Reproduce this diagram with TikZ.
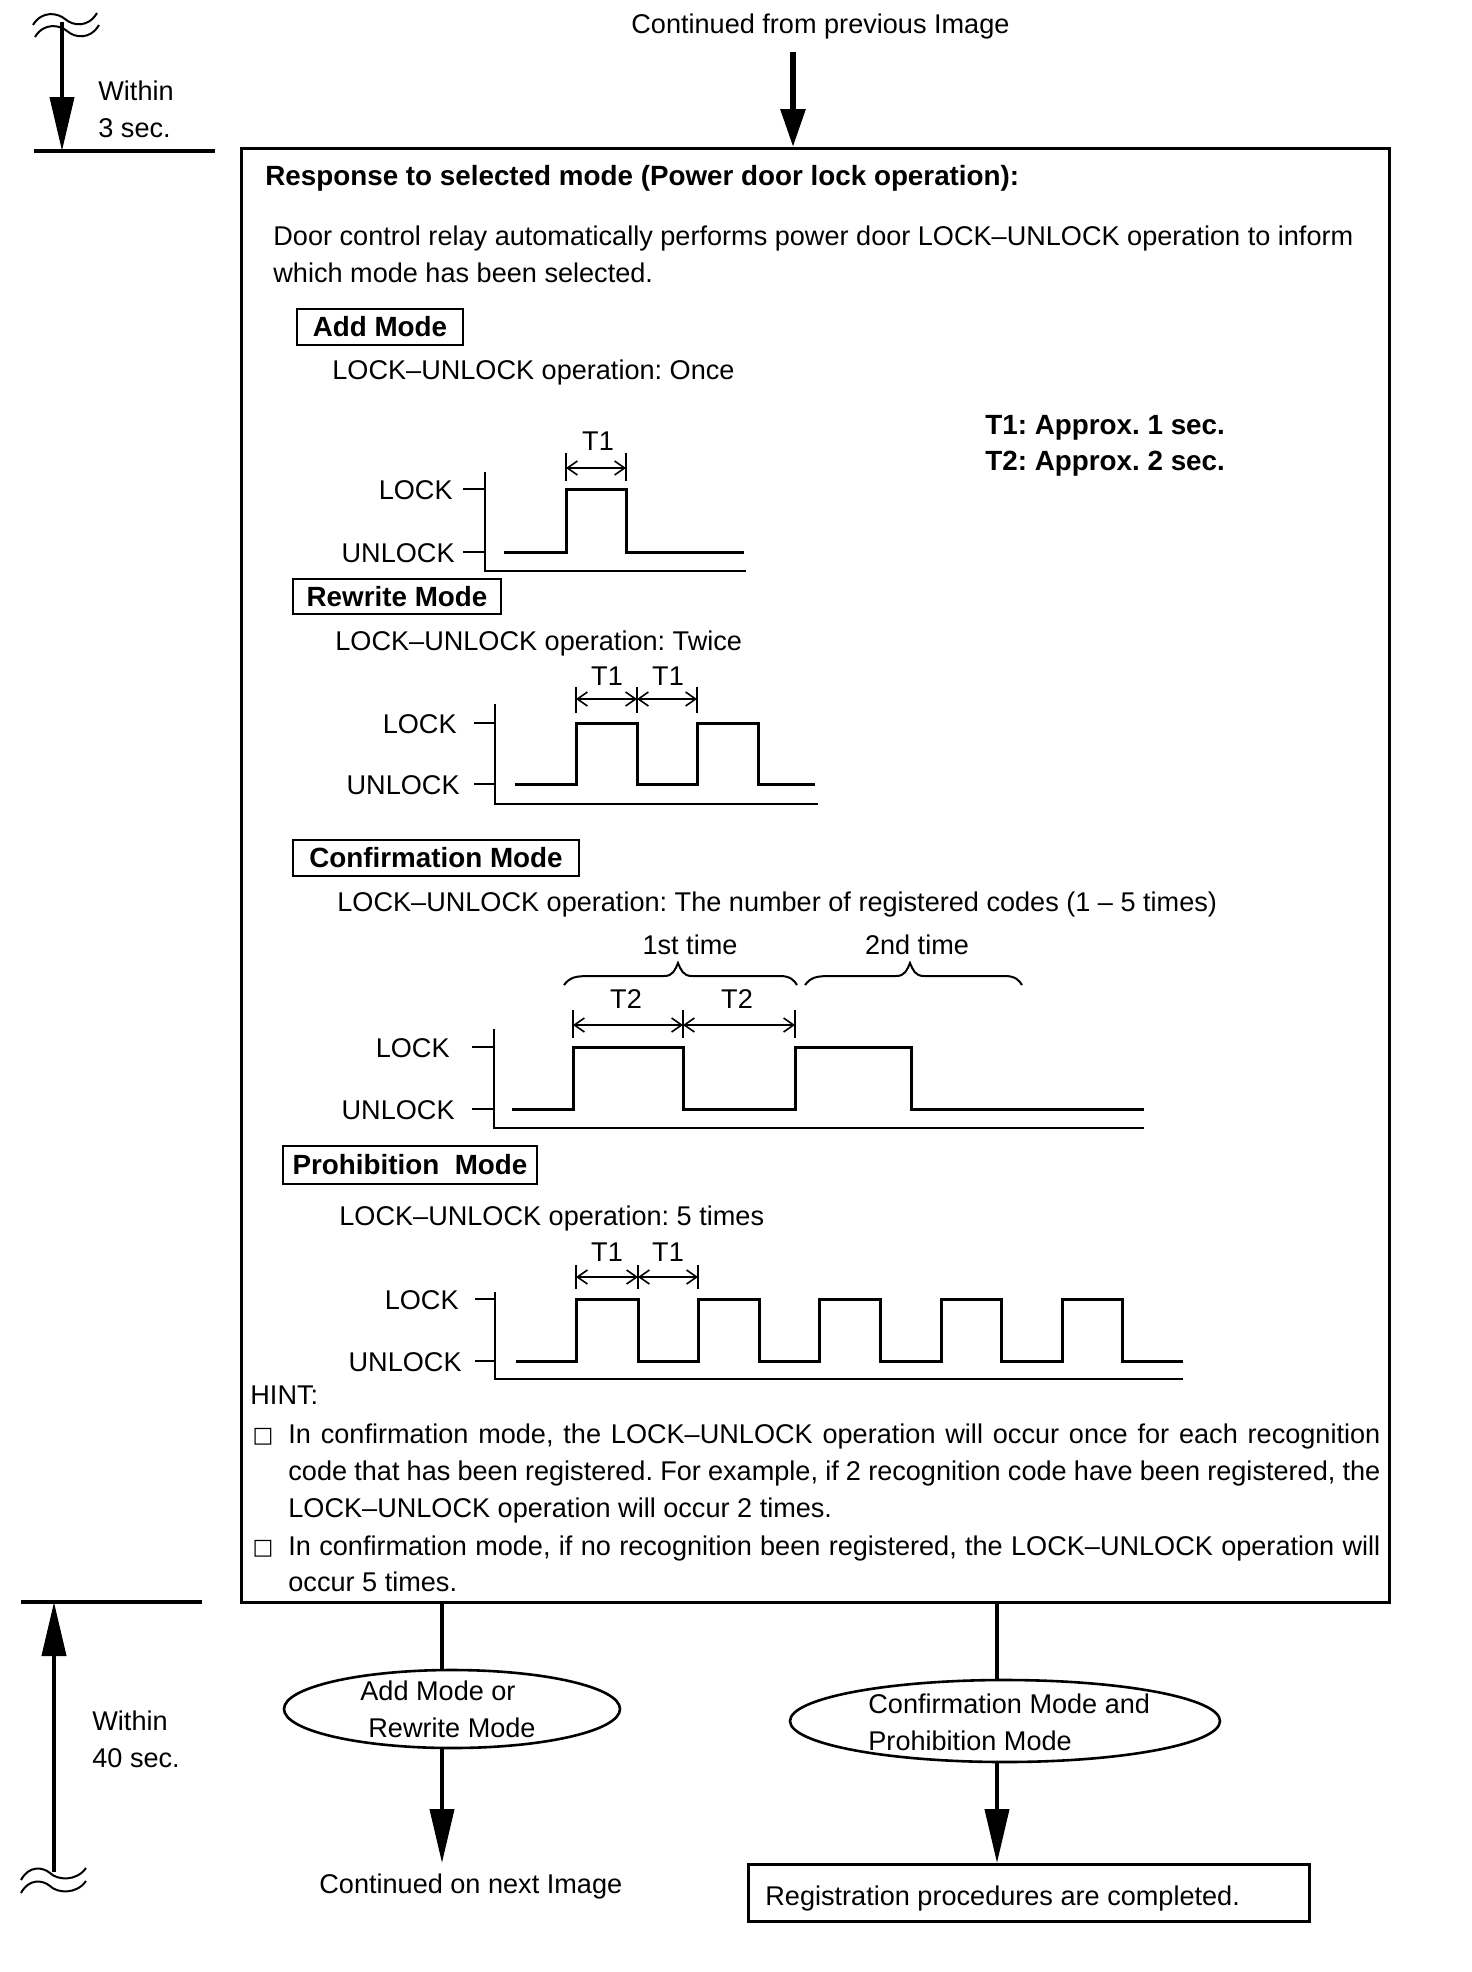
\documentclass[tikz,border=0pt]{standalone}
\usepackage{fontspec}
\setmainfont{Liberation Sans}
\newfontfamily\dejavu{DejaVu Sans}
\usetikzlibrary{arrows.meta,shapes.geometric}
\frenchspacing
\newcommand\fsz{\fontsize{13.55pt}{16pt}\selectfont}
\newcommand\bsz{\fontsize{13.9pt}{16pt}\selectfont\bfseries}
\tikzset{
  lbl/.style={anchor=base west, inner sep=0pt, font=\fsz},
  lblr/.style={anchor=base east, inner sep=0pt, font=\fsz},
  lblc/.style={anchor=base, inner sep=0pt, font=\fsz},
  bld/.style={anchor=base west, inner sep=0pt, font=\bsz},
  modebox/.style={draw, line width=1pt, inner sep=0pt, font=\bsz},
  sig/.style={line width=1.5pt, line join=miter},
  ax/.style={line width=1.3pt},
  dimarr/.style={line width=0.8pt, {Straight Barb[length=5pt,width=7pt]}-{Straight Barb[length=5pt,width=7pt]}},
  dimtick/.style={line width=0.8pt},
  conn/.style={line width=2pt, -{Triangle[length=27pt,width=12pt]}},
  plain/.style={line width=2pt},
  wave/.style={line width=1pt},
  brace/.style={line width=1pt},
  sqb/.style={anchor=base, inner sep=0pt, font=\dejavu\fontsize{11pt}{12pt}\selectfont},
}
\begin{document}
\begin{tikzpicture}[x=0.5pt,y=-0.5pt]
\useasboundingbox (0,0) rectangle (1472,1972);

% ---------- main box ----------
\node[draw, line width=1.5pt, minimum width=574pt, minimum height=727pt, anchor=north west, inner sep=0pt] (main) at (240,147) {};

% ---------- top ----------
\node[lbl] (prev) at (631,33) {Continued from previous Image};
\coordinate (ts) at (793,52);
\draw[line width=3pt, -{Triangle[length=19pt,width=12pt]}] (ts) -- (ts |- main.north);

% top-left marker
\draw[wave] (33,25) .. controls (42,10) and (58,13) .. (65,19) .. controls (73,26) and (88,28) .. (97,13);
\draw[wave] (35,37) .. controls (44,22) and (60,25) .. (67,31) .. controls (75,38) and (90,40) .. (99,25);
\coordinate (tl1) at (62,22);
\coordinate (tl2) at (62,151);
\draw[conn] (tl1) -- (tl2);
\draw[line width=1.6pt] (34,151) -- (215,151);
\node[lbl] (w3a) at (98,100) {Within};
\node[lbl] (w3b) at (98,137) {3 sec.};

% ---------- header texts ----------
\node[bld] (title) at (265,185) {Response to selected mode (Power door lock operation):};
\node[lbl] (door1) at (273,245) {Door control relay automatically performs power door LOCK--UNLOCK operation to inform};
\node[lbl] (door2) at (273,282) {which mode has been selected.};
\node[bld] (t1note) at (985,434) {T1: Approx. 1 sec.};
\node[bld] (t2note) at (985,470) {T2: Approx. 2 sec.};

% ---------- Add mode ----------
\node[modebox, minimum width=83pt, minimum height=18pt] (addbox) at (380,327) {Add Mode};
\node[lbl] (once) at (332,379) {LOCK--UNLOCK operation: Once};
\node[lblr] (aL) at (453,499) {LOCK};
\node[lblr] (aU) at (455,562) {UNLOCK};
\draw[ax] (463,489) -- (485,489);
\draw[ax] (463,552) -- (485,552);
\draw[ax] (485,472) -- (485,571) -- (746,571);
\draw[sig] (504,552) -- (566,552) -- (566,489) -- (626,489) -- (626,552) -- (744,552);
\draw[dimtick] (566,453) -- (566,481) (626,453) -- (626,481);
\draw[dimarr] (566,468) -- (626,468);
\node[lblc] (aT1) at (598,450) {T1};

% ---------- Rewrite mode ----------
\node[modebox, minimum width=104pt, minimum height=17.5pt] (rwbox) at (397,596.5) {Rewrite Mode};
\node[lbl] (twice) at (335,650) {LOCK--UNLOCK operation: Twice};
\node[lblr] (rL) at (457,733) {LOCK};
\node[lblr] (rU) at (460,794) {UNLOCK};
\draw[ax] (474,723) -- (495,723);
\draw[ax] (474,784) -- (495,784);
\draw[ax] (495,704) -- (495,804) -- (818,804);
\draw[sig] (515,784) -- (576,784) -- (576,723) -- (637,723) -- (637,784) -- (697,784) -- (697,723) -- (758,723) -- (758,784) -- (815,784);
\draw[dimtick] (576,687) -- (576,713) (637,687) -- (637,713) (697,687) -- (697,713);
\draw[dimarr] (576,699) -- (637,699);
\draw[dimarr] (637,699) -- (697,699);
\node[lblc] (rT1a) at (607,685) {T1};
\node[lblc] (rT1b) at (668,685) {T1};

% ---------- Confirmation mode ----------
\node[modebox, minimum width=143pt, minimum height=18pt] (cfbox) at (436,858) {Confirmation Mode};
\node[lbl] (num) at (337,911) {LOCK--UNLOCK operation: The number of registered codes (1 -- 5 times)};
\node[lblc] (first) at (690,954) {1st time};
\node[lblc] (second) at (917,954) {2nd time};
\draw[brace] (564,985) .. controls (570,977) and (576,976) .. (590,976) -- (664,976) .. controls (673,976) and (675,970) .. (678,963) .. controls (681,970) and (683,976) .. (692,976) -- (780,976) .. controls (790,976) and (794,980) .. (797,985);
\draw[brace] (805,985) .. controls (811,977) and (817,976) .. (831,976) -- (896,976) .. controls (905,976) and (907,970) .. (910,963) .. controls (913,970) and (915,976) .. (924,976) -- (1005,976) .. controls (1015,976) and (1019,980) .. (1022,985);
\node[lblc] (cT2a) at (626,1008) {T2};
\node[lblc] (cT2b) at (737,1008) {T2};
\draw[dimtick] (573,1010) -- (573,1038) (683,1010) -- (683,1038) (795,1010) -- (795,1038);
\draw[dimarr] (573,1025) -- (683,1025);
\draw[dimarr] (683,1025) -- (795,1025);
\node[lblr] (cL) at (450,1057) {LOCK};
\node[lblr] (cU) at (455,1119) {UNLOCK};
\draw[ax] (472,1047) -- (494,1047);
\draw[ax] (472,1109) -- (494,1109);
\draw[ax] (494,1029) -- (494,1128) -- (1144,1128);
\draw[sig] (512,1109) -- (573,1109) -- (573,1047) -- (683,1047) -- (683,1109) -- (795,1109) -- (795,1047) -- (911,1047) -- (911,1109) -- (1144,1109);

% ---------- Prohibition mode ----------
\node[modebox, minimum width=127pt, minimum height=19pt] (prbox) at (410,1165) {Prohibition\ \ Mode};
\node[lbl] (five) at (339,1225) {LOCK--UNLOCK operation: 5 times};
\node[lblc] (pT1a) at (607,1261) {T1};
\node[lblc] (pT1b) at (668,1261) {T1};
\draw[dimtick] (576,1265) -- (576,1289) (638,1265) -- (638,1289) (698,1265) -- (698,1289);
\draw[dimarr] (576,1277) -- (638,1277);
\draw[dimarr] (638,1277) -- (698,1277);
\node[lblr] (pL) at (459,1309) {LOCK};
\node[lblr] (pU) at (462,1371) {UNLOCK};
\draw[ax] (475,1299) -- (495,1299);
\draw[ax] (475,1361) -- (495,1361);
\draw[ax] (495,1292) -- (495,1379) -- (1183,1379);
\draw[sig] (516,1361) -- (576,1361) -- (576,1299) -- (638,1299) -- (638,1361)
  -- (698,1361) -- (698,1299) -- (759,1299) -- (759,1361)
  -- (819,1361) -- (819,1299) -- (880,1299) -- (880,1361)
  -- (941,1361) -- (941,1299) -- (1001,1299) -- (1001,1361)
  -- (1062,1361) -- (1062,1299) -- (1122,1299) -- (1122,1361) -- (1183,1361);

% ---------- HINT ----------
\node[lbl] (hint) at (250,1404) {HINT:};
\node[sqb] (sq1) at (263,1442) {□};
\node[sqb] (sq2) at (263,1554) {□};
\node[lbl] (h1) at (288,1443) {\makebox[546pt][s]{In confirmation mode, the LOCK--UNLOCK operation will occur once for each recognition}};
\node[lbl] (h2) at (288,1480) {\makebox[546pt][s]{code that has been registered. For example, if 2 recognition code have been registered, the}};
\node[lbl] (h3) at (288,1517) {LOCK--UNLOCK operation will occur 2 times.};
\node[lbl] (h4) at (288,1555) {\makebox[546pt][s]{In confirmation mode, if no recognition been registered, the LOCK--UNLOCK operation will}};
\node[lbl] (h5) at (288,1591) {occur 5 times.};

% ---------- bottom ----------
\draw[line width=2pt] (21,1602) -- (202,1602);
\coordinate (bl1) at (54,1872);
\coordinate (bl2) at (54,1602);
\draw[conn] (bl1) -- (bl2);
\draw[wave] (21,1880) .. controls (29,1865) and (43,1867) .. (50,1873) .. controls (57,1880) and (76,1882) .. (86,1868);
\draw[wave] (21,1893) .. controls (29,1878) and (43,1880) .. (50,1886) .. controls (57,1893) and (76,1895) .. (86,1881);
\node[lbl] (w40a) at (92,1730) {Within};
\node[lbl] (w40b) at (92,1767) {40 sec.};

\node[draw, ellipse, line width=1.3pt, minimum width=168pt, minimum height=39pt, inner sep=0pt] (e1) at (452,1709) {};
\node[lbl] (e1a) at (360,1700) {Add Mode or};
\node[lbl] (e1b) at (368,1737) {Rewrite Mode};
\node[draw, ellipse, line width=1.3pt, minimum width=215pt, minimum height=41pt, inner sep=0pt] (e2) at (1005,1721) {};
\node[lbl] (e2a) at (868,1713) {Confirmation Mode and};
\node[lbl] (e2b) at (868,1750) {Prohibition Mode};

\coordinate (b1) at (442,1601);
\coordinate (c1) at (442,1863);
\draw[plain] (b1) -- (b1 |- e1.north);
\draw[conn] (b1 |- e1.south) -- (c1);
\node[lbl] (next) at (319,1893) {Continued on next Image};

\node[draw, line width=1.3pt, minimum width=280.5pt, minimum height=28.5pt, anchor=north west, inner sep=0pt] (reg) at (747,1863) {};
\node[lbl] (regt) at (765,1905) {Registration procedures are completed.};
\coordinate (b2) at (997,1601);
\draw[plain] (b2) -- (b2 |- e2.north);
\draw[conn] (b2 |- e2.south) -- (b2 |- reg.north);
\end{tikzpicture}
\end{document}
